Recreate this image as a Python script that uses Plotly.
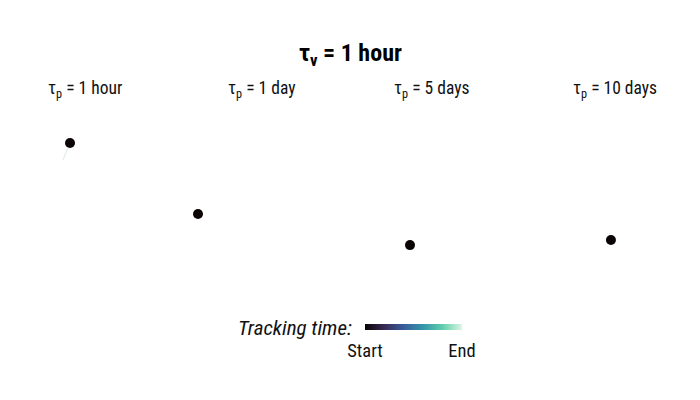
import plotly.graph_objects as go

# data
panel_labels = ["τ<sub>p</sub> = 1 hour", "τ<sub>p</sub> = 1 day", "τ<sub>p</sub> = 5 days", "τ<sub>p</sub> = 10 days"]
start_x = [0.40, 0.08, 0.36, 0.473]
start_y = [0.826, 0.453, 0.289, 0.316]
# trajectory (only visible in first panel)
track_x = [[0.40, 0.353], [], [], []]
track_y = [[0.826, 0.737], [], [], []]
title_text = "τ<sub>v</sub> = 1 hour"
cbar_labels = ["Start", "End"]

mako = [[0.0, "#0B0405"], [0.2, "#382A54"], [0.4, "#395D9C"],
        [0.6, "#3497A9"], [0.8, "#60CEAC"], [1.0, "#DEF5E5"]]

FONT = "Roboto Condensed, Liberation Sans Narrow, DejaVu Sans Condensed, Roboto"
W, H = 700, 400
panel_px = [(10, 160), (186, 336), (356, 506), (540, 690)]
ydom = [1 - 300 / H, 1 - 110 / H]

fig = go.Figure()
annotations = []
for i in range(4):
    ax = "" if i == 0 else str(i + 1)
    x0, x1 = panel_px[i]
    fig.layout["xaxis" + ax] = dict(domain=[x0 / W, x1 / W], range=[0, 1], visible=False,
                                    anchor="y" + ax)
    fig.layout["yaxis" + ax] = dict(domain=ydom, range=[0, 1], visible=False,
                                    anchor="x" + ax)
    if track_x[i]:
        fig.add_trace(go.Scatter(x=track_x[i], y=track_y[i], mode="lines",
                                 line=dict(color="#E3EEE8", width=1.2),
                                 xaxis="x" + ax, yaxis="y" + ax, showlegend=False,
                                 hoverinfo="skip"))
    fig.add_trace(go.Scatter(
        x=[start_x[i]], y=[start_y[i]], mode="markers",
        marker=dict(size=10, color=[0], cmin=0, cmax=1, colorscale=mako,
                    showscale=(i == 0),
                    colorbar=dict(orientation="h", x=365 / W, xanchor="left",
                                  y=1 - 324 / H, yanchor="top",
                                  len=97, lenmode="pixels", thickness=6,
                                  outlinewidth=0, xpad=0, ypad=0,
                                  tickvals=[0, 1], ticktext=cbar_labels,
                                  ticks="outside", ticklen=5,
                                  tickcolor="rgba(0,0,0,0)",
                                  tickfont=dict(size=18.5, color="#111111", family=FONT))),
        xaxis="x" + ax, yaxis="y" + ax, showlegend=False))
    annotations.append(dict(text=panel_labels[i], x=(x0 + x1) / 2 / W, y=1 - 89.5 / H,
                            xref="paper", yref="paper", showarrow=False,
                            xanchor="center", yanchor="middle",
                            font=dict(size=17.5, color="#111111", family=FONT)))

annotations.append(dict(text="<i>Tracking time:</i>", x=354 / W, y=1 - 328 / H,
                        xref="paper", yref="paper", showarrow=False,
                        xanchor="right", yanchor="middle",
                        font=dict(size=21, color="#111111", family=FONT)))
annotations.append(dict(text="<b>" + title_text + "</b>", x=350 / W, y=1 - 54 / H,
                        xref="paper", yref="paper", showarrow=False,
                        xanchor="center", yanchor="middle",
                        font=dict(size=24, color="#000000", family=FONT)))

fig.update_layout(width=W, height=H, margin=dict(l=0, r=0, t=0, b=0),
                  paper_bgcolor="white", plot_bgcolor="white",
                  font=dict(family=FONT), annotations=annotations)

fig.write_html("out.html")
